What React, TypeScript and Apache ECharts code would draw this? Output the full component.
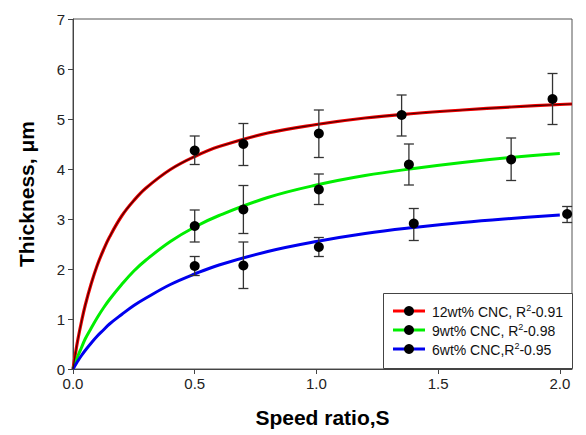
import React, { useEffect, useRef } from "react";
import * as echarts from "echarts";

// Fitted curves
const curveX = [0, 0.01, 0.02, 0.035, 0.05, 0.075, 0.1, 0.125, 0.15, 0.2, 0.25, 0.3, 0.4, 0.5, 0.6, 0.8, 1.0, 1.2, 1.4, 1.6, 1.8, 2.0];
const redCurveY = [0, 0.31, 0.59, 0.95, 1.27, 1.71, 2.08, 2.38, 2.64, 3.06, 3.37, 3.62, 3.99, 4.25, 4.45, 4.72, 4.89, 5.02, 5.11, 5.18, 5.24, 5.29];
const redCurveEnd = [2.05, 5.3];
const greenCurveY = [0, 0.13, 0.26, 0.43, 0.6, 0.82, 1.03, 1.22, 1.39, 1.69, 1.96, 2.18, 2.55, 2.84, 3.07, 3.43, 3.68, 3.87, 4.01, 4.13, 4.23, 4.31];
const blueCurveY = [0, 0.08, 0.16, 0.27, 0.37, 0.52, 0.66, 0.78, 0.9, 1.09, 1.27, 1.42, 1.69, 1.9, 2.08, 2.35, 2.55, 2.71, 2.83, 2.93, 3.01, 3.08];

// Measured points with error bars
const redX = [0.5, 0.7, 1.01, 1.35, 1.97];
const redY = [4.37, 4.5, 4.71, 5.08, 5.4];
const redLo = [4.09, 4.07, 4.23, 4.66, 4.89];
const redHi = [4.66, 4.91, 5.18, 5.48, 5.91];

const greenX = [0.5, 0.7, 1.01, 1.38, 1.8];
const greenY = [2.86, 3.19, 3.59, 4.09, 4.19];
const greenLo = [2.54, 2.71, 3.29, 3.68, 3.77];
const greenHi = [3.18, 3.67, 3.9, 4.5, 4.62];

const blueX = [0.5, 0.7, 1.01, 1.4, 2.03];
const blueY = [2.06, 2.07, 2.44, 2.91, 3.1];
const blueLo = [1.87, 1.61, 2.25, 2.57, 2.93];
const blueHi = [2.25, 2.54, 2.63, 3.21, 3.25];

const legendLabels = [
  ["12wt% CNC, R", "-0.91"],
  ["9wt% CNC, R", "-0.98"],
  ["6wt% CNC,R", "-0.95"],
];
const legendColors = ["#ff0000", "#00ee00", "#0000ee"];

const FONT = "Liberation Sans, Arial, sans-serif";

function pairs(xs: number[], ys: number[]) {
  return xs.map((x, i) => [x, ys[i]]);
}

function errData(xs: number[], lo: number[], hi: number[]) {
  return xs.map((x, i) => [x, lo[i], hi[i]]);
}

function errorSeries(data: number[][]) {
  return {
    type: "custom",
    z: 5,
    data,
    encode: { x: 0, y: [1, 2] },
    renderItem: (params: any, api: any) => {
      const x = api.value(0);
      const top = api.coord([x, api.value(2)]);
      const bot = api.coord([x, api.value(1)]);
      const hw = 5;
      const st = { stroke: "#333", lineWidth: 1.3 };
      return {
        type: "group",
        children: [
          { type: "line", shape: { x1: top[0], y1: top[1], x2: bot[0], y2: bot[1] }, style: st },
          { type: "line", shape: { x1: top[0] - hw, y1: top[1], x2: top[0] + hw, y2: top[1] }, style: st },
          { type: "line", shape: { x1: bot[0] - hw, y1: bot[1], x2: bot[0] + hw, y2: bot[1] }, style: st },
        ],
      };
    },
  };
}

function dotSeries(data: number[][]) {
  return {
    type: "scatter",
    z: 6,
    symbol: "circle",
    symbolSize: 10,
    itemStyle: { color: "#000", opacity: 1 },
    data,
  };
}

function curveSeries(data: number[][], color: string, width: number, z: number) {
  return {
    type: "line",
    z,
    smooth: 0.4,
    showSymbol: false,
    symbol: "none",
    lineStyle: { color, width },
    data,
  };
}

export default function App() {
  const ref = useRef<HTMLDivElement>(null);

  useEffect(() => {
    document.body.style.margin = "0";
    if (!ref.current) return;
    const chart = echarts.init(ref.current, undefined, { renderer: "svg" });

    const redData = [...pairs(curveX, redCurveY), redCurveEnd];

    const legendGraphics: any[] = [
      {
        type: "rect",
        z: 100,
        shape: { x: 383.5, y: 293.5, width: 189, height: 75 },
        style: { fill: "#fff", stroke: "#444", lineWidth: 1 },
      },
    ];
    legendLabels.forEach((lab, i) => {
      const y = 311 + i * 19;
      legendGraphics.push({
        type: "line",
        z: 101,
        shape: { x1: 393, y1: y, x2: 425, y2: y },
        style: { stroke: legendColors[i], lineWidth: 3 },
      });
      legendGraphics.push({
        type: "circle",
        z: 102,
        shape: { cx: 409, cy: y, r: 5 },
        style: { fill: "#000" },
      });
      legendGraphics.push({
        type: "text",
        z: 102,
        x: 432,
        y: y,
        style: {
          text: `{a|${lab[0]}}{s|2}{a|${lab[1]}}`,
          verticalAlign: "middle",
          rich: {
            a: { fontSize: 14, fontFamily: FONT, fill: "#111", lineHeight: 16, verticalAlign: "bottom" },
            s: { fontSize: 9, fontFamily: FONT, fill: "#111", lineHeight: 16, verticalAlign: "top", padding: [0, 0, 6, 0] },
          },
        },
      });
    });

    chart.setOption({
      animation: false,
      grid: {
        left: 73,
        right: 14,
        top: 19,
        bottom: 66,
        show: true,
        borderColor: "#555",
        borderWidth: 1,
        backgroundColor: "transparent",
      },
      xAxis: {
        type: "value",
        min: 0,
        max: 2.05,
        interval: 0.5,
        name: "Speed ratio,S",
        nameLocation: "middle",
        nameGap: 38,
        nameTextStyle: { fontSize: 21, fontWeight: "bold", fontFamily: FONT, color: "#000" },
        axisLine: { show: true, lineStyle: { color: "#444", width: 1 } },
        axisTick: { show: true, length: 5, lineStyle: { color: "#444" } },
        axisLabel: {
          fontSize: 15,
          fontFamily: FONT,
          color: "#222",
          margin: 7,
          showMaxLabel: false,
          formatter: (v: number) => (v > 2.01 ? "" : v.toFixed(1)),
        },
        splitLine: { show: false },
      },
      yAxis: {
        type: "value",
        min: 0,
        max: 7,
        interval: 1,
        name: "Thickness, μm",
        nameLocation: "middle",
        nameGap: 36,
        nameTextStyle: { fontSize: 21, fontWeight: "bold", fontFamily: FONT, color: "#000" },
        axisLine: { show: true, lineStyle: { color: "#444", width: 1 } },
        axisTick: { show: true, length: 5, lineStyle: { color: "#444" } },
        axisLabel: { fontSize: 15, fontFamily: FONT, color: "#222", margin: 8 },
        splitLine: { show: false },
      },
      graphic: legendGraphics,
      series: [
        curveSeries(redData, "#f00000", 3.2, 2),
        curveSeries(redData, "#4a0000", 1.2, 3),
        curveSeries(pairs(curveX, greenCurveY), "#00ee00", 3, 2),
        curveSeries(pairs(curveX, blueCurveY), "#0000ee", 3, 2),
        errorSeries(errData(redX, redLo, redHi)),
        errorSeries(errData(greenX, greenLo, greenHi)),
        errorSeries(errData(blueX, blueLo, blueHi)),
        dotSeries(pairs(redX, redY)),
        dotSeries(pairs(greenX, greenY)),
        dotSeries(pairs(blueX, blueY)),
      ],
    });

    return () => chart.dispose();
  }, []);

  return <div ref={ref} style={{ width: 586, height: 435 }} />;
}
